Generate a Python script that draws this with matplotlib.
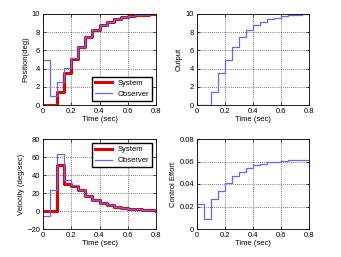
import numpy as np
import matplotlib.pyplot as plt

t = [0, 0.05, 0.1, 0.15, 0.2, 0.25, 0.3, 0.35, 0.4, 0.45, 0.5, 0.55, 0.6, 0.65, 0.7, 0.75, 0.8]

pos_sys = [0, 0, 1.4, 3.5, 5.1, 6.4, 7.5, 8.2, 8.8, 9.15, 9.45, 9.65, 9.8, 9.87, 9.93, 9.97, 10.0]
pos_obs = [5, 1, 2.5, 4.1, 5.2, 6.4, 7.5, 8.2, 8.8, 9.15, 9.45, 9.65, 9.8, 9.87, 9.93, 9.97, 10.0]

output = [0, 0, 1.4, 3.5, 5.0, 6.4, 7.5, 8.2, 8.75, 9.1, 9.4, 9.6, 9.75, 9.85, 9.9, 9.95, 10.0]

vel_sys = [0, 0, 51, 30, 28, 23, 17, 12, 9, 6.5, 5, 3.5, 2.5, 1.8, 1.3, 0.8, 0.5]
vel_obs = [-5, 23, 63, 34, 29, 23, 17, 12, 9, 6.5, 5, 3.5, 2.5, 1.8, 1.3, 0.8, 0.5]

effort = [0.022, 0.009, 0.027, 0.034, 0.041, 0.047, 0.051, 0.054, 0.057, 0.058,
          0.0595, 0.060, 0.0605, 0.061, 0.061, 0.0612, 0.0612]

plt.rcParams['font.family'] = 'Liberation Sans'
plt.rcParams['font.size'] = 5.5

W, H = 341, 257
fig = plt.figure(figsize=(W / 100, H / 100), dpi=100)

def make_ax(l, r, top, bot):
    return fig.add_axes([l / W, 1 - bot / H, (r - l) / W, (bot - top) / H])

ax1 = make_ax(43, 156, 14, 105)
ax2 = make_ax(197, 309, 14, 105)
ax3 = make_ax(43, 156, 139, 229)
ax4 = make_ax(197, 309, 139, 229)

red = '#e00000'
blue = '#6666ee'

ax1.step(t, pos_sys, where='post', color=red, lw=2.2, label='System')
ax1.step(t, pos_obs, where='post', color=blue, lw=0.9, label='Observer')
ax1.set_ylim(0, 10)
ax1.set_yticks([0, 2, 4, 6, 8, 10])
ax1.set_ylabel('Position(deg)')
ax1.legend(loc='lower right', fontsize=5.5, fancybox=False, edgecolor='black',
           framealpha=1, handlelength=2.2, borderpad=0.4)

ax2.step(t, output, where='post', color=blue, lw=0.9)
ax2.set_ylim(0, 10)
ax2.set_yticks([0, 2, 4, 6, 8, 10])
ax2.set_ylabel('Output')

ax3.step(t, vel_sys, where='post', color=red, lw=2.2, label='System')
ax3.step(t, vel_obs, where='post', color=blue, lw=0.9, label='Observer')
ax3.set_ylim(-20, 80)
ax3.set_yticks([-20, 0, 20, 40, 60, 80])
ax3.set_ylabel('Velocity (deg/sec)')
ax3.legend(loc='upper right', fontsize=5.5, fancybox=False, edgecolor='black',
           framealpha=1, handlelength=2.2, borderpad=0.4)

ax4.step(t, effort, where='post', color=blue, lw=0.9)
ax4.set_ylim(0, 0.08)
ax4.set_yticks([0, 0.02, 0.04, 0.06, 0.08])
ax4.set_yticklabels(['0', '0.02', '0.04', '0.06', '0.08'])
ax4.set_ylabel('Control Effort')

for ax in (ax1, ax2, ax3, ax4):
    ax.set_xlim(0, 0.8)
    ax.set_xticks([0, 0.2, 0.4, 0.6, 0.8])
    ax.set_xticklabels(['0', '0.2', '0.4', '0.6', '0.8'])
    ax.set_xlabel('Time (sec)', labelpad=1)
    ax.grid(True, color='black', linestyle=(0, (1, 2)), lw=0.5)
    ax.tick_params(direction='in', length=2, width=0.5, pad=2, top=True, right=True)
    ax.yaxis.labelpad = 2
    for s in ax.spines.values():
        s.set_linewidth(0.6)

fig.savefig('out.png', dpi=100)
